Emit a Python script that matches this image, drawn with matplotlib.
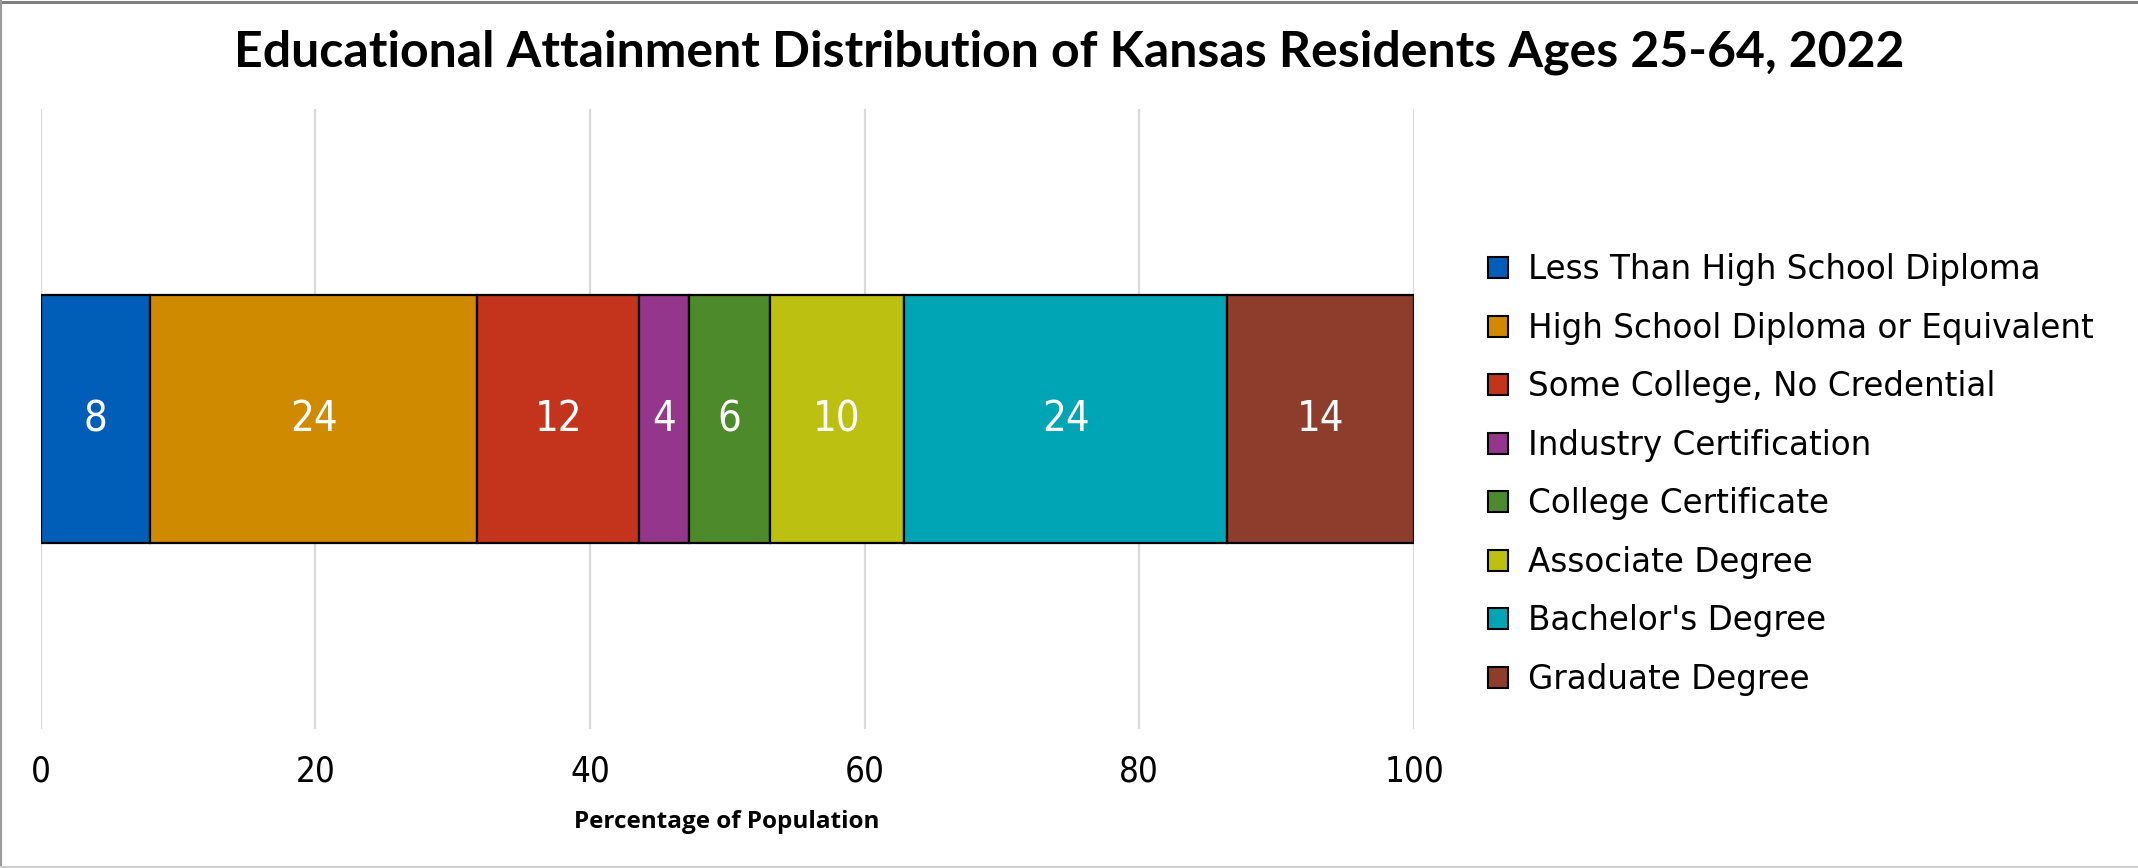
import matplotlib
matplotlib.use("Agg")
import matplotlib.pyplot as plt
from matplotlib.patches import Patch
from matplotlib.lines import Line2D

categories = [
    "Less Than High School Diploma",
    "High School Diploma or Equivalent",
    "Some College, No Credential",
    "Industry Certification",
    "College Certificate",
    "Associate Degree",
    "Bachelor's Degree",
    "Graduate Degree",
]
values = [8.0, 23.8, 11.8, 3.6, 5.9, 9.8, 23.5, 13.6]
colors = ["#005EB8", "#D08A00", "#C4341D", "#94368B", "#4C8A2B", "#BCC011", "#00A5B5", "#8E3D2C"]
xticks = [0, 20, 40, 60, 80, 100]
title = "Educational Attainment Distribution of Kansas Residents Ages 25-64, 2022"
xlabel = "Percentage of Population"

W, H = 2138, 868
fig = plt.figure(figsize=(W / 100, H / 100), dpi=100)
fig.patch.set_facecolor("white")

left_px, right_px, top_px, bot_px = 40.5, 1414, 109, 729
ax = fig.add_axes([left_px / W, 1 - bot_px / H, (right_px - left_px) / W, (bot_px - top_px) / H])

handles = []
cum = 0.0
for cat, v, c in zip(categories, values, colors):
    cont = ax.barh(0, v, left=cum, height=1.0, color=c, edgecolor="black", linewidth=1.6, zorder=3)
    ax.bar_label(cont, labels=[f"{v:.0f}"], label_type="center", color="white",
                 fontsize=30, family="DejaVu Sans", fontstretch="condensed")
    handles.append(Patch(facecolor=c, edgecolor="black", linewidth=1.5, label=cat))
    cum += v

ax.set_xlim(0, 100)
ax.set_ylim(-1.25, 1.25)
ax.set_xticks(xticks)
ax.set_xticklabels([str(t) for t in xticks], fontsize=25, family="DejaVu Sans", fontstretch="condensed")
ax.set_yticks([])
ax.tick_params(axis="x", length=0, pad=18)
ax.grid(axis="x", color="#d9d9d9", linewidth=1.6, zorder=0)
for s in ax.spines.values():
    s.set_visible(False)
ax.set_xlabel(xlabel, fontsize=17.5, fontweight="bold", family="Open Sans", labelpad=16)

fig.text(0.5, 1 - 52 / H, title, ha="center", va="center", fontsize=36, fontweight="bold", family="Lato")

fig.legend(handles=handles, loc="center left", bbox_to_anchor=(1488 / W, 1 - 474.5 / H),
           frameon=False, fontsize=23.5, handlelength=0.62, handleheight=0.62,
           handletextpad=0.6, labelspacing=0.78, borderpad=0, borderaxespad=0)

fig.add_artist(Line2D([0, 1], [1 - 1.5 / H, 1 - 1.5 / H], transform=fig.transFigure, color="#7f7f7f", linewidth=2.2))
fig.add_artist(Line2D([1 / W, 1 / W], [0, 1], transform=fig.transFigure, color="#9a9a9a", linewidth=1.5))
fig.add_artist(Line2D([0, 1], [1 / H, 1 / H], transform=fig.transFigure, color="#d0d0d0", linewidth=1.5))

fig.savefig("out.png", dpi=100, facecolor="white")
